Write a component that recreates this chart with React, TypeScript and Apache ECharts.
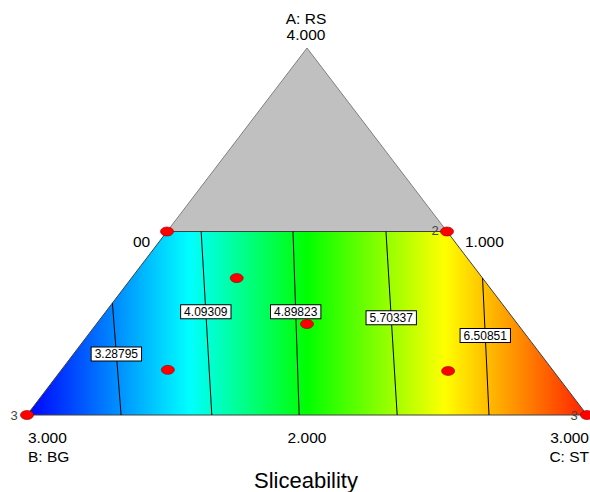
import React, { useEffect, useRef } from "react";
import * as echarts from "echarts";

// Ternary data in pseudo-component fractions [A, B, C]
const regionVertices: number[][] = [[0, 1, 0], [0, 0, 1], [0.5, 0, 0.5], [0.5, 0.5, 0]];
const excludedVertices: number[][] = [[0.5, 0.5, 0], [1, 0, 0], [0.5, 0, 0.5]];
const designPoints: number[][] = [
  [0.5, 0.5, 0], [0.5, 0, 0.5], [0, 1, 0], [0, 0, 1],
  [0.373, 0.439, 0.188], [0.248, 0.376, 0.376], [0.123, 0.687, 0.19], [0.12, 0.188, 0.692],
];
const contourLevels: number[] = [3.28795, 4.09309, 4.89823, 5.70337, 6.50851];
const contourTops: number[][] = [
  [0.305, 0.695, 0], [0.5, 0.439, 0.061], [0.5, 0.275, 0.225], [0.5, 0.109, 0.391], [0.373, 0, 0.627],
];
const contourBottoms: number[][] = [
  [0, 0.832, 0.168], [0, 0.67, 0.33], [0, 0.514, 0.486], [0, 0.339, 0.661], [0, 0.175, 0.825],
];
const labelFractions: number[] = [0.455, 0.437, 0.437, 0.47, 0.42];
const colorStops: [number, string][] = [
  [0, "#0000ff"], [0.29, "#00ffff"], [0.5, "#00ff00"], [0.746, "#ffff00"], [0.8625, "#ff9a00"], [1, "#ff2000"],
];

const toXY = (p: number[]) => [p[2] + p[0] / 2, p[0]];
const FONT = '"Liberation Sans", Arial, sans-serif';

export default function App() {
  const ref = useRef<HTMLDivElement>(null);
  useEffect(() => {
    if (!ref.current) return;
    const chart = echarts.init(ref.current, null, { renderer: "svg" });

    const polySeries = (verts: number[][], fillFn: (api: any) => any, stroke: string) => ({
      type: "custom",
      data: [0],
      silent: true,
      z: 1,
      renderItem: (_p: any, api: any) => {
        const pts = verts.map((v) => api.coord(toXY(v)));
        return {
          type: "polygon",
          shape: { points: pts },
          style: { fill: fillFn(api), stroke, lineWidth: 1 },
        };
      },
    });

    const gradientFill = (api: any) => {
      const p0 = api.coord([0, 0]);
      const p1 = api.coord([1, 0]);
      return new echarts.graphic.LinearGradient(
        p0[0], 0, p1[0], 0,
        colorStops.map(([offset, color]) => ({ offset, color })),
        true
      );
    };

    const contourSeries = contourLevels.map((lvl, i) => ({
      type: "line",
      data: [toXY(contourTops[i]), toXY(contourBottoms[i])],
      symbol: "none",
      silent: true,
      z: 3,
      lineStyle: { color: "#000", width: 1 },
    }));

    const labelData = contourLevels.map((lvl, i) => {
      const t = labelFractions[i];
      const p = contourTops[i].map((v, k) => v + t * (contourBottoms[i][k] - v));
      return { value: toXY(p), name: lvl.toFixed(5) };
    });

    const text = (t: string, x: number, y: number, align: string, size = 15.5, fill = "#000") => ({
      type: "text",
      x,
      y,
      z: 100,
      silent: true,
      style: { text: t, align, verticalAlign: "middle", fontSize: size, fontFamily: FONT, fill },
    });

    chart.setOption({
      animation: false,
      grid: { left: 27, right: 3, top: 48, bottom: 77 },
      xAxis: { type: "value", min: 0, max: 1, show: false },
      yAxis: { type: "value", min: 0, max: 1, show: false },
      series: [
        polySeries(excludedVertices, () => "#c0c0c0", "#808080"),
        polySeries(regionVertices, gradientFill, "#404040"),
        ...contourSeries,
        {
          type: "scatter",
          data: labelData,
          symbolSize: 0,
          silent: true,
          z: 5,
          itemStyle: { opacity: 1 },
          label: {
            show: true,
            position: "inside",
            formatter: (p: any) => p.name,
            backgroundColor: "#ffffff",
            borderColor: "#000",
            borderWidth: 1,
            padding: [1, 3, 0, 3],
            fontSize: 12,
            fontFamily: FONT,
            color: "#000",
            opacity: 1,
          },
        },
        {
          type: "scatter",
          data: designPoints.map(toXY),
          symbol: "circle",
          symbolSize: [13, 9],
          silent: true,
          z: 6,
          itemStyle: { color: "#ff0000", borderColor: "#900000", borderWidth: 0.6, opacity: 1 },
        },
      ],
      graphic: {
        elements: [
          text("A: RS", 306, 18.5, "center"),
          text("4.000", 306, 34.5, "center"),
          text("00", 133, 241.5, "left"),
          text("1.000", 465, 241.5, "left"),
          text("3.000", 28, 437.5, "left"),
          text("B: BG", 28, 456, "left"),
          text("2.000", 307, 437.5, "center"),
          text("3.000", 589, 437.5, "right"),
          text("C: ST", 589, 456, "right"),
          text("2", 435, 230, "center", 13, "#444"),
          text("3", 14, 415, "center", 13, "#444"),
          text("3", 574, 415, "center", 13, "#444"),
          text("Sliceability", 306, 480, "center", 22),
        ],
      },
    });
    return () => chart.dispose();
  }, []);
  return (
    <div
      ref={ref}
      style={{ position: "absolute", left: 0, top: 0, width: 590, height: 492, background: "#fff" }}
    />
  );
}
